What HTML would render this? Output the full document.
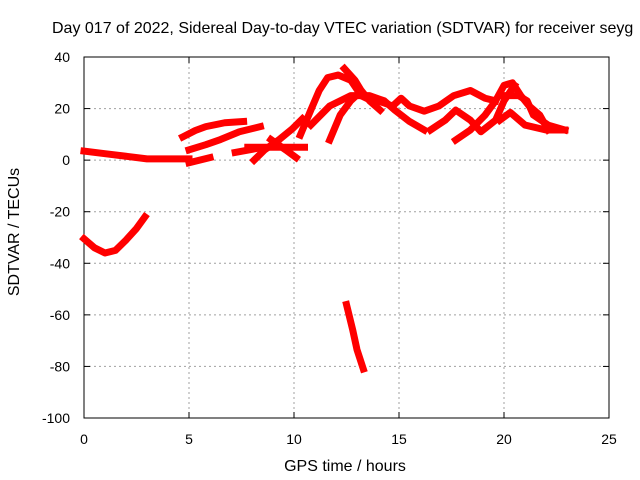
<!DOCTYPE html>
<html><head><meta charset="utf-8"><style>
body{margin:0;background:#fff}
svg{display:block;font-family:"Liberation Sans",sans-serif;font-size:14px}
</style></head><body>
<svg id="chart" width="640" height="480" viewBox="0 0 640 480">
<rect width="640" height="480" fill="#fff"/>
<text x="52" y="33" fill="#000" font-size="16">Day 017 of 2022, Sidereal Day-to-day VTEC variation (SDTVAR) for receiver seyg</text>
<g id="grid"></g>
<g id="axes"></g>
<g id="series"></g>
<text x="345" y="471" text-anchor="middle" font-size="16">GPS time / hours</text>
<text transform="translate(19,232) rotate(-90)" text-anchor="middle" font-size="16">SDTVAR / TECUs</text>
</svg>
<script>
const xTicks=[0,5,10,15,20,25];
const yTicks=[40,20,0,-20,-40,-60,-80,-100];
const tracks=[
[[0,3.5],[1,2.5],[2,1.5],[3,0.5],[4,0.5],[5,0.5]],
[[0,-30.5],[0.5,-34],[1,-36],[1.5,-35],[2,-31],[2.5,-26.5],[2.9,-22]],
[[4.7,9],[5.3,11.5],[5.8,13],[6.7,14.5],[7.6,15]],
[[5,4],[5.8,6],[6.5,8],[7.4,11],[8.4,13]],
[[5,-1],[6,1]],
[[7.2,3],[8.2,4.5]],
[[7.8,5],[9.1,5],[10.5,5]],
[[8.1,0],[8.6,4],[9.3,8],[9.9,12],[10.4,16]],
[[8.9,8],[9.6,4],[10.1,1]],
[[10.3,9.7],[10.8,19.4],[11.2,27],[11.6,32],[12.1,33],[12.7,31],[13.2,25],[13.7,23]],
[[12.4,35.5],[12.9,31],[13.2,27],[13.6,23],[14.1,19.4]],
[[11.7,7.8],[12.2,17.5],[12.7,23],[13.1,26]],
[[10.8,13.6],[11.7,21],[12.7,25],[13.6,25],[14.3,23],[14.8,19.4],[15.5,15],[16.2,11.7]],
[[14,23],[14.7,21],[15.1,24],[15.5,21],[16.2,19],[16.9,21],[17.6,25],[18.4,27],[19.1,24],[19.6,23]],
[[16.5,11.7],[17.2,15.5],[17.7,19.4],[18.4,15.5],[18.9,11],[19.6,15.5],[20,23],[20.5,29]],
[[17.7,7.8],[18.4,11.7],[19.1,17.5],[19.6,23],[20,29],[20.4,30],[20.8,25],[21.2,21],[21.7,17.5],[22.1,11.7]],
[[19.8,15.5],[20.3,18.5],[21,13.6],[22,11.7],[22.9,11.7]],
[[20,25],[20.7,25],[21.1,23],[21.4,17.5],[22.1,13.6],[22.9,11.7]],
[[12.5,-56],[12.8,-66],[13,-73.5],[13.3,-81]]
];
const X0=84,X1=609,Y0=418,Y1=57;
const sx=v=>X0+(v-0)/25*(X1-X0);
const sy=v=>Y0-(v+100)/140*(Y0-Y1);
const NS="http://www.w3.org/2000/svg";
const grid=document.getElementById('grid'),axes=document.getElementById('axes'),ser=document.getElementById('series');
function mk(t,a,p){const e=document.createElementNS(NS,t);for(const k in a)e.setAttribute(k,a[k]);p.appendChild(e);return e;}
xTicks.forEach(t=>{const x=sx(t);
 if(t>0&&t<25){const g=mk('line',{x1:x,x2:x,y1:Y1,y2:Y0,stroke:'#a0a0a0','stroke-dasharray':'2,3'},grid);
 
 }
 mk('line',{x1:x,x2:x,y1:Y0,y2:Y0-6,stroke:'#000'},axes);
 mk('line',{x1:x,x2:x,y1:Y1,y2:Y1+6,stroke:'#000'},axes);
 const l=mk('text',{x:x,y:Y0+26,'text-anchor':'middle'},axes);l.textContent=t;
 
 
});
yTicks.forEach(t=>{const y=sy(t);
 if(t>-100&&t<40){const g=mk('line',{x1:X0,x2:X1,y1:y,y2:y,stroke:'#a0a0a0','stroke-dasharray':'2,3'},grid);
 
 }
 mk('line',{x1:X0,x2:X0+6,y1:y,y2:y,stroke:'#000'},axes);
 mk('line',{x1:X1,x2:X1-6,y1:y,y2:y,stroke:'#000'},axes);
 const l=mk('text',{x:X0-14,y:y+5,'text-anchor':'end'},axes);l.textContent=t;
 
 
});
mk('rect',{x:X0,y:Y1,width:X1-X0,height:Y0-Y1,fill:'none',stroke:'#000'},axes);
tracks.forEach(tr=>{
 const p=mk('polyline',{points:tr.map(d=>sx(d[0])+','+sy(d[1])).join(' '),fill:'none',stroke:'#f00','stroke-width':7,'stroke-linejoin':'round','stroke-linecap':'square'},ser);
 
 
});
</script>
</body></html>
